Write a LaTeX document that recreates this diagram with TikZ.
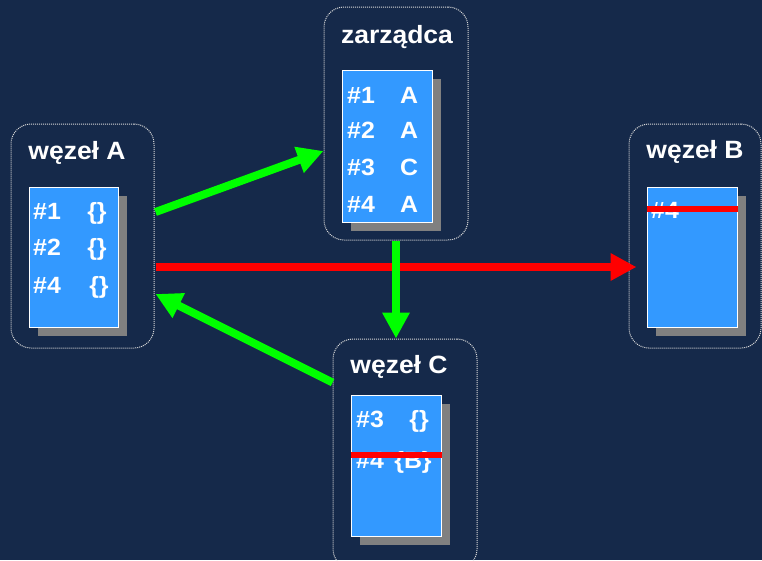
\documentclass[tikz,border=0pt]{standalone}
\usepackage{fontspec}
\setmainfont{Liberation Sans}[FakeStretch=1.06]
\usetikzlibrary{calc,arrows.meta,positioning,shadows}

\definecolor{tlo}{HTML}{15294A}
\definecolor{lista}{HTML}{3399FF}
\definecolor{cien}{HTML}{808080}
\definecolor{zielony}{HTML}{00FF00}
\definecolor{czerwony}{HTML}{FF0000}

\tikzset{
  wezel/.style={draw=white!85!black, densely dotted, line width=1pt, rounded corners=20pt,
    minimum width=143pt, minimum height=224pt, inner sep=0pt},
  listabox/.style={fill=lista, draw=white, line width=1pt, inner sep=0pt,
    minimum width=90pt, minimum height=140pt,
    drop shadow={shadow xshift=9pt, shadow yshift=-9pt, fill=cien, opacity=1}},
  tytul/.style={text=white, anchor=base, inner sep=0pt, font=\bfseries\fontsize{25}{29}\selectfont},
  wpis/.style={text=white, anchor=base west, inner sep=0pt, font=\bfseries\fontsize{23.5}{28}\selectfont},
  wartosc/.style={wpis, anchor=base},
  zielona/.style={draw=zielony, line width=8pt, -{Triangle[length=26pt,width=26pt]}},
  czerwona/.style={draw=czerwony, line width=8pt, -{Triangle[length=26pt,width=26pt]}},
  skreslenie/.style={draw=czerwony, line width=6pt}
}

\begin{document}
\begin{tikzpicture}[x=1pt, y=-1pt]
  % tlo
  \useasboundingbox (0,0) rectangle (762,560);
  \fill[tlo] (0,0) rectangle (762,560);
  \clip (0,0) rectangle (762,560);

  % wezly
  \node[wezel] (wezelA) at (82.5,236) {};
  \node[wezel, minimum width=144pt, minimum height=233pt] (zarzadca) at (396,123.5) {};
  \node[wezel, minimum width=132pt] (wezelB) at (695,236) {};
  \node[wezel, minimum width=144pt, minimum height=230pt] (wezelC) at (405,454) {};

  \node[tytul] (tA) at (77,159) {węzeł A};
  \node[tytul] (tZ) at (397,43) {zarządca};
  \node[tytul] (tB) at (695,158) {węzeł B};
  \node[tytul] (tC) at (399,373) {węzeł C};

  % listy
  \node[listabox, minimum width=89pt] (listaA) at (73.5,257) {};
  \node[listabox, minimum height=152pt] (listaZ) at (387,146) {};
  \node[listabox] (listaB) at (692,257) {};
  \node[listabox, minimum height=141pt] (listaC) at (396,465.5) {};

  % wpisy wezla A
  \foreach \nr/\y/\x in {1/219/97, 2/255/97, 4/293/99} {
    \node[wpis] (a\nr) at (33,\y) {\#\nr};
    \node[wartosc] (av\nr) at (\x,\y) {\{\}};
  }

  % wpisy zarzadcy
  \foreach \nr/\kto/\y in {1/A/103, 2/A/138, 3/C/175, 4/A/212} {
    \node[wpis] (z\nr) at (347,\y) {\#\nr};
    \node[wartosc] (zv\nr) at (409,\y) {\kto};
  }

  % wpisy wezla B i C
  \node[wpis] (b4) at (651,218) {\#4};
  \node[wpis] (c3) at (356,427) {\#3};
  \node[wartosc] (cv3) at (419,427) {\{\}};
  \node[wpis] (c4) at (356,468) {\#4};
  \node[wartosc] (cv4) at (413,468) {\{B\}};

  % skreslenia
  \draw[skreslenie] ($(listaB.north west)+(0,22)$) -- ($(listaB.north east)+(0,22)$);
  \draw[skreslenie] ($(listaC.north west)+(0,60)$) -- ($(listaC.north east)+(0,60)$);

  % komunikaty
  \draw[zielona] ($(wezelA.east)+(1,-24)$) -- ($(zarzadca.west)+(0,27.5)$);
  \draw[czerwona] ($(wezelA.east)+(1,31)$) -- ($(wezelB.west)+(8,31)$);
  \draw[zielona] (zarzadca.south) -- (zarzadca.south |- wezelC.north);
  \draw[zielona] ($(wezelC.north west)+(0,44)$) -- ($(wezelA.east)+(1,58)$);
\end{tikzpicture}
\end{document}
